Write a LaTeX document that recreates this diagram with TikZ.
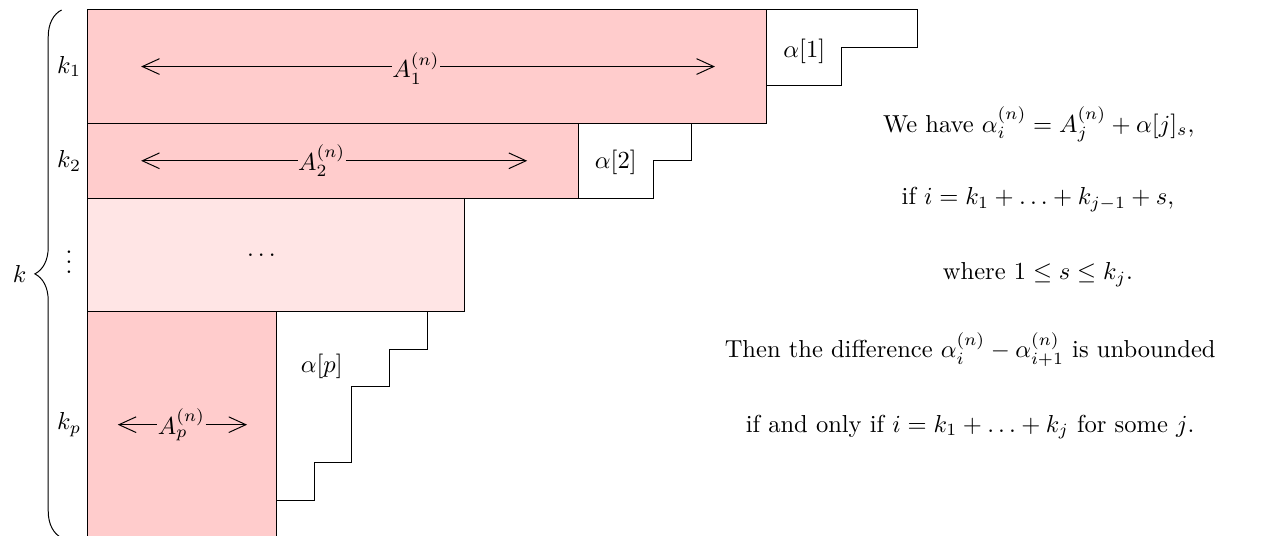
\documentclass[tikz,border=0pt]{standalone}
\usepackage{amsmath, amssymb}
\usepackage{xcolor}
\usepackage{tikz}
\usetikzlibrary{calc, arrows.meta, decorations.pathreplacing}

\begin{document}
\begin{tikzpicture}[x=0.54cm, y=0.54cm,
    >={Straight Barb[length=7pt, width=6.4pt]},
    nhan/.style={inner sep=0pt},
    dong/.style={anchor=base}]

    % Khung hình
    \useasboundingbox (-2.334,0.265) rectangle (31.38,-13.93);

    % =================================================================
    % 1. CÁC HÀNG TÔ MÀU (KHỐI A_j)
    % =================================================================
    \filldraw[fill=red!20] (0,0) rectangle (18,-3);
    \filldraw[fill=red!20] (0,-3) rectangle (13,-5);
    \filldraw[fill=red!10] (0,-5) rectangle (10,-8);
    \filldraw[fill=red!20] (0,-8) rectangle (5,-14);

    % =================================================================
    % 2. CÁC BẬC THANG alpha[j]
    % =================================================================
    \draw (18,0) -- (22,0) -- (22,-1) -- (20,-1) -- (20,-2) -- (18,-2);
    \draw (13,-3) -- (16,-3) -- (16,-4) -- (15,-4) -- (15,-5) -- (13,-5);
    \draw (5,-8) -- (9,-8) -- (9,-9) -- (8,-9) -- (8,-10) -- (7,-10)
          -- (7,-12) -- (6,-12) -- (6,-13) -- (5,-13);

    \node (a1) at (19,-1.1) {$\alpha[1]$};
    \node (a2) at (14,-4.03) {$\alpha[2]$};
    \node (ap) at (6.2,-9.45) {$\alpha[p]$};

    % =================================================================
    % 3. MŨI TÊN CHIỀU RỘNG A_j^{(n)}
    % =================================================================
    \coordinate (L1) at (1.41,-1.5);
    \coordinate (R1) at (16.63,-1.5);
    \coordinate (L2) at (1.41,-4);
    \coordinate (R2) at (11.65,-4);
    \coordinate (Lp) at (0.79,-11);
    \coordinate (Rp) at (4.22,-11);

    \node[nhan] (A1) at (8.7,-1.55) {$A_1^{(n)}$};
    \node[nhan] (A2) at (6.2,-4) {$A_2^{(n)}$};
    \node[nhan] (Ap) at (2.48,-11) {$A_p^{(n)}$};
    \node (dd) at (4.6,-6.5) {$\ldots$};

    \draw[<-] (L1) -- (L1 -| A1.west);
    \draw[->] (A1.east |- R1) -- (R1);
    \draw[<-] (L2) -- (L2 -| A2.west);
    \draw[->] (A2.east |- R2) -- (R2);
    \draw[<-] (Lp) -- (Lp -| Ap.west);
    \draw[->] (Ap.east |- Rp) -- (Rp);

    % =================================================================
    % 4. NHÃN k_j VÀ DẤU NGOẶC
    % =================================================================
    \node (k1) at (-0.5,-1.5) {$k_1$};
    \node (k2) at (-0.5,-4) {$k_2$};
    \node (kd) at (-0.5,-6.5) {$\vdots$};
    \node (kp) at (-0.5,-11) {$k_p$};

    \draw[decorate, decoration={brace, amplitude=10.9pt}] (-0.7,-14) -- (-0.7,0);
    \node[left] (k) at (-1.4,-7) {$k$};

    % =================================================================
    % 5. PHẦN CHÚ THÍCH BÊN PHẢI
    % =================================================================
    \node[dong] (t1) at (25.22,-3.24) {We have $\alpha_i^{(n)} = A_j^{(n)} + \alpha[j]_s$,};
    \node[dong] (t2) at (25.2,-5.17) {if $i = k_1 + \ldots + k_{j-1} + s$,};
    \node[dong] (t3) at (25.2,-7.16) {where $1 \le s \le k_j$.};
    \node[dong] (t4) at (23.4,-9.23) {Then the difference $\alpha_i^{(n)} - \alpha_{i+1}^{(n)}$ is unbounded};
    \node[dong] (t5) at (23.4,-11.2) {if and only if $i = k_1 + \ldots + k_j$ for some $j$.};

\end{tikzpicture}
\end{document}
